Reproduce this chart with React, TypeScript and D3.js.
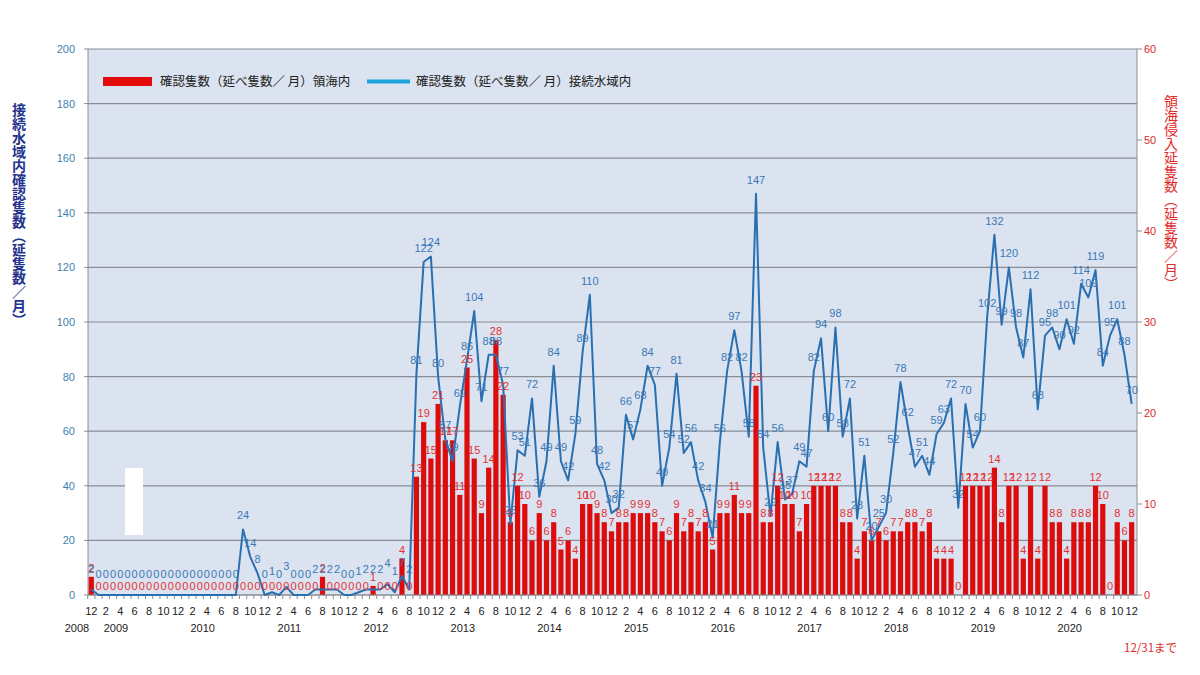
import React from 'react';
import * as d3 from 'd3';

// monthly values, Dec 2008 .. Dec 2020
const contiguousZone: number[] = [
  2, // 2008-12
  0, 0, 0, 0, 0, 0, 0, 0, 0, 0, 0, 0, // 2009
  0, 0, 0, 0, 0, 0, 0, 0, 24, 14, 8, 0, // 2010
  1, 0, 3, 0, 0, 0, 2, 2, 2, 2, 0, 0, // 2011
  1, 2, 2, 2, 4, 1, 7, 2, 81, 122, 124, 80, // 2012
  57, 49, 69, 86, 104, 71, 88, 88, 77, 26, 53, 51, // 2013
  72, 36, 49, 84, 49, 42, 59, 89, 110, 48, 42, 30, // 2014
  32, 66, 57, 68, 84, 77, 40, 54, 81, 52, 56, 42, // 2015
  34, 21, 56, 82, 97, 82, 58, 147, 54, 29, 56, 35, // 2016
  37, 49, 47, 82, 94, 60, 98, 58, 72, 28, 51, 20, // 2017
  25, 30, 52, 78, 62, 47, 51, 44, 59, 63, 72, 32, // 2018
  70, 54, 60, 102, 132, 99, 120, 98, 87, 112, 68, 95, // 2019
  98, 90, 101, 92, 114, 109, 119, 84, 95, 101, 88, 70, // 2020
];

const territorialSea: number[] = [
  2, // 2008-12
  0, 0, 0, 0, 0, 0, 0, 0, 0, 0, 0, 0, // 2009
  0, 0, 0, 0, 0, 0, 0, 0, 0, 0, 0, 0, // 2010
  0, 0, 0, 0, 0, 0, 0, 2, 0, 0, 0, 0, // 2011
  0, 0, 1, 0, 0, 0, 4, 0, 13, 19, 15, 21, // 2012
  17, 17, 11, 25, 15, 9, 14, 28, 22, 8, 12, 10, // 2013
  6, 9, 6, 8, 5, 6, 4, 10, 10, 9, 8, 7, // 2014
  8, 8, 9, 9, 9, 8, 7, 6, 9, 7, 8, 7, // 2015
  8, 5, 9, 9, 11, 9, 9, 23, 8, 8, 12, 10, // 2016
  10, 7, 10, 12, 12, 12, 12, 8, 8, 4, 7, 6, // 2017
  7, 6, 7, 7, 8, 8, 7, 8, 4, 4, 4, 0, // 2018
  12, 12, 12, 12, 14, 8, 12, 12, 4, 12, 4, 12, // 2019
  8, 8, 4, 8, 8, 8, 12, 10, 0, 8, 6, 8, // 2020
];

const startMonth = 12; // first category is December
const years = [2008, 2009, 2010, 2011, 2012, 2013, 2014, 2015, 2016, 2017, 2018, 2019, 2020];
const leftTicks = [0, 20, 40, 60, 80, 100, 120, 140, 160, 180, 200];
const rightTicks = [0, 10, 20, 30, 40, 50, 60];

const legendRed = '確認隻数（延べ隻数／ 月）領海内';
const legendBlue = '確認隻数（延べ隻数／ 月）接続水域内';
const leftTitle = '接続水域内確認隻数（延隻数／月）';
const rightTitle = '領海侵入延隻数（延隻数／月）';

const numFont = '"Liberation Sans", Arial, sans-serif';
const jpFont = '"Noto Sans CJK JP", "Noto Sans", sans-serif';

export default function App() {
  const left = 88, right = 1137, top = 49, bottom = 595;
  const idx = d3.range(contiguousZone.length);

  const x = d3.scaleBand<number>().domain(idx).range([left, 1135]).paddingInner(0.28).paddingOuter(0.1);
  const yL = d3.scaleLinear().domain([0, 200]).range([bottom, top]);
  const yR = d3.scaleLinear().domain([0, 60]).range([bottom, top]);
  const cx = (i: number) => (x(i) as number) + x.bandwidth() / 2;

  const line = d3.line<number>().x((d, i) => cx(i)).y(d => yL(d));

  const monthOf = (i: number) => ((startMonth - 1 + i) % 12) + 1;

  return (
    <svg width={1200} height={675} style={{ display: 'block', margin: '-8px', background: '#fff' }}>
      <rect x={left} y={top} width={right - left} height={bottom - top} fill="#dbe3f0" />

      {leftTicks.map(t => (
        <line key={t} x1={left} x2={right} y1={yL(t)} y2={yL(t)} stroke="#8a8d93" strokeWidth={1.2} />
      ))}
      <line x1={left} x2={left} y1={top} y2={bottom} stroke="#8a8d93" />
      <line x1={right} x2={right} y1={top} y2={bottom} stroke="#8a8d93" />

      {/* left axis */}
      {leftTicks.map(t => (
        <g key={'l' + t}>
          <line x1={left - 4} x2={left} y1={yL(t)} y2={yL(t)} stroke="#8a8d93" />
          <text x={75} y={yL(t) + 4} textAnchor="end" fontSize={11} fontFamily={numFont} fill="#3f7fae">{t}</text>
        </g>
      ))}

      {/* right axis */}
      {rightTicks.map(t => (
        <g key={'r' + t}>
          <line x1={right} x2={right + 5} y1={yR(t)} y2={yR(t)} stroke="#8a8d93" />
          <text x={1144} y={yR(t) + 4} textAnchor="start" fontSize={11} fontFamily={numFont} fill="#e02a2a">{t}</text>
        </g>
      ))}

      {/* x axis ticks and labels */}
      {idx.map(i => (
        <line key={'xt' + i} x1={(x(i) as number) - (x.step() - x.bandwidth()) / 2} x2={(x(i) as number) - (x.step() - x.bandwidth()) / 2}
          y1={bottom} y2={bottom + 4} stroke="#8a8d93" />
      ))}
      {idx.filter(i => i % 2 === 0).map(i => (
        <text key={'xm' + i} x={cx(i)} y={615} textAnchor="middle" fontSize={11} fontFamily={numFont} fill="#222">
          {monthOf(i)}
        </text>
      ))}
      {years.map((yr, k) => (
        <text key={yr} x={k === 0 ? 77 : cx((k - 1) * 12 + 3) + 3} y={632} textAnchor="middle" fontSize={11}
          fontFamily={numFont} fill="#222">{yr}</text>
      ))}

      {/* bars */}
      {territorialSea.map((v, i) => (
        <rect key={'b' + i} x={x(i)} y={yR(v)} width={x.bandwidth()} height={bottom - yR(v)} fill="#dd0c0c" />
      ))}

      <line x1={left} x2={right} y1={bottom} y2={bottom} stroke="#8a8d93" />

      {/* line */}
      <path d={line(contiguousZone) || ''} fill="none" stroke="#2a6fb0" strokeWidth={2} strokeLinejoin="round" />

      {/* data labels */}
      {territorialSea.map((v, i) => (
        <text key={'rl' + i} x={cx(i)} y={yR(v) - 5} textAnchor="middle" fontSize={11} fontFamily={numFont}
          fill="#e53030">{v}</text>
      ))}
      {contiguousZone.map((v, i) => (
        <text key={'bl' + i} x={cx(i)} y={yL(v) - (v < 5 ? 17 : 10)} textAnchor="middle" fontSize={11}
          fontFamily={numFont} fill="#3a78b5">{v}</text>
      ))}

      {/* stray white block in the original */}
      <rect x={125} y={468} width={18} height={67} fill="#fff" />

      {/* legend */}
      <rect x={103} y={77} width={49} height={9} fill="#e30b0b" />
      <text x={160} y={86} fontSize={12.5} fontFamily={jpFont} fill="#222">{legendRed}</text>
      <line x1={367} x2={410} y1={81.5} y2={81.5} stroke="#1fa3dc" strokeWidth={4} />
      <text x={416} y={86} fontSize={12.5} fontFamily={jpFont} fill="#222">{legendBlue}</text>

      {/* axis titles */}
      <text x={19} y={103} fontSize={14} fontWeight="bold" fontFamily={jpFont} fill="#23328c"
        style={{ writingMode: 'vertical-rl', textOrientation: 'upright' } as React.CSSProperties}>{leftTitle}</text>
      <text x={1171} y={95} fontSize={14} fontFamily={jpFont} fill="#e02a2a"
        style={{ writingMode: 'vertical-rl', textOrientation: 'upright' } as React.CSSProperties}>{rightTitle}</text>

      <text x={1124} y={652} fontSize={11.5} fontFamily={jpFont} fill="#e02a2a">12/31まで</text>
    </svg>
  );
}
